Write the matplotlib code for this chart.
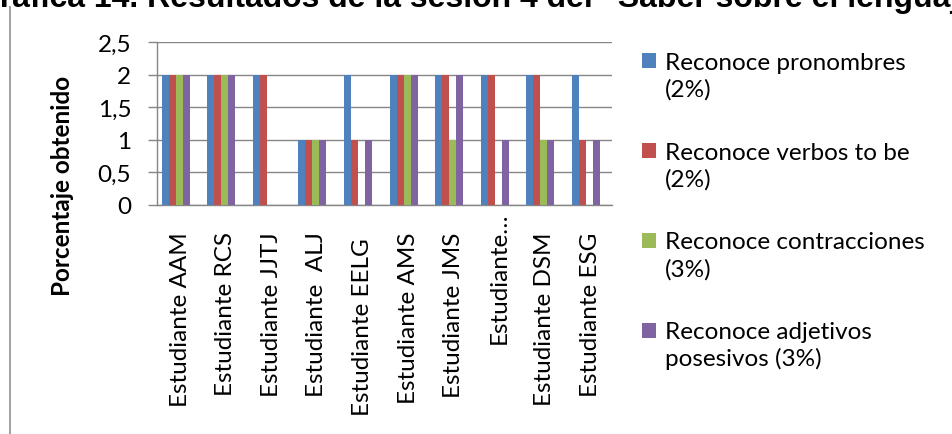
import matplotlib
matplotlib.use("Agg")
import matplotlib.pyplot as plt
import matplotlib.transforms as mtransforms
from matplotlib.patches import Rectangle
from matplotlib.lines import Line2D
import numpy as np

# ---- data -------------------------------------------------------------
students = ["Estudiante AAM", "Estudiante RCS", "Estudiante JJTJ", "Estudiante  ALJ",
            "Estudiante EELG ", "Estudiante AMS", "Estudiante JMS", "Estudiante\u2026",
            "Estudiante DSM", "Estudiante ESG"]
pronombres = [2, 2, 2, 1, 2, 2, 2, 2, 2, 2]
verbos_to_be = [2, 2, 2, 1, 1, 2, 2, 2, 2, 1]
contracciones = [2, 2, 0, 1, 0, 2, 1, 0, 1, 0]
adjetivos_posesivos = [2, 2, 0, 1, 1, 2, 2, 1, 1, 1]
series_labels = ["Reconoce pronombres\n(2%)",
                 "Reconoce verbos to be\n(2%)",
                 "Reconoce contracciones\n(3%)",
                 "Reconoce adjetivos\nposesivos (3%)"]
y_ticks = [0, 0.5, 1, 1.5, 2, 2.5]
y_tick_labels = ["0", "0,5", "1", "1,5", "2", "2,5"]
title = "Gráfica 14. Resultados de la sesión 4 del \u201cSaber sobre el lenguaje\u201d"
y_title = "Porcentaje obtenido"

# ---- style ------------------------------------------------------------
colors = ["#4F81BD", "#C0504D", "#9BBB59", "#8064A2"]
grid_color = "#868686"
FONT = "Lato"
FS = 17.5
W, H = 952, 435

fig = plt.figure(figsize=(W / 100, H / 100), dpi=100)
fig.patch.set_facecolor("white")

# plot area in pixel terms
ax_left, ax_right, ax_top, ax_bottom = 157, 612, 43, 206
ax = fig.add_axes([ax_left / W, 1 - ax_bottom / H,
                   (ax_right - ax_left) / W, (ax_bottom - ax_top) / H])

series = [pronombres, verbos_to_be, contracciones, adjetivos_posesivos]
x = np.arange(len(students))
bar_w = 0.1536
for i, (vals, col) in enumerate(zip(series, colors)):
    ax.bar(x + (i - 1.5) * bar_w, vals, width=bar_w, color=col,
           edgecolor="none", zorder=3)

ax.set_xlim(-0.41, 9.57)
ax.set_ylim(0, 2.5)
ax.set_yticks(y_ticks)
ax.set_yticklabels(y_tick_labels, fontfamily=FONT, fontsize=FS)
ax.set_xticks(x)
ax.set_xticklabels(students, rotation=90, fontfamily=FONT, fontsize=FS)
ax.tick_params(axis="x", length=0, pad=19)
ax.tick_params(axis="y", length=6.5, width=1, color=grid_color, pad=12)
ax.yaxis.grid(True, color=grid_color, linewidth=1.0, zorder=0)
ax.set_axisbelow(True)
for side in ("top", "right"):
    ax.spines[side].set_visible(False)
for side in ("left", "bottom"):
    ax.spines[side].set_color(grid_color)
    ax.spines[side].set_linewidth(1.0)

# category labels sit slightly right of the bar groups
shift = mtransforms.ScaledTranslation(4.5 / 100, 0, fig.dpi_scale_trans)
for k, lab in enumerate(ax.get_xticklabels()):
    t = lab.get_transform() + shift
    if lab.get_text().endswith("\u2026"):
        t = t + mtransforms.ScaledTranslation(0, 20 / 100, fig.dpi_scale_trans)
    lab.set_transform(t)

ax.set_ylabel(y_title, fontfamily=FONT, fontsize=FS, fontweight="bold", va="center")
ax.yaxis.set_label_coords((62 - ax_left) / (ax_right - ax_left),
                          (ax_bottom - 186) / (ax_bottom - ax_top))

# legend drawn as a column on the right
for i, (lab, col) in enumerate(zip(series_labels, colors)):
    y0 = 69.5 + 90 * i
    fig.patches.append(Rectangle((642 / W, 1 - (y0 - 1) / H), 14 / W, 15 / H,
                                 transform=fig.transFigure, facecolor=col,
                                 edgecolor="none"))
    for j, line in enumerate(lab.split("\n")):
        fig.text(665 / W, 1 - (y0 + 27 * j) / H, line, fontfamily=FONT,
                 fontsize=FS, va="baseline", ha="left", color="black")

# chart frame edge on the left
fig.add_artist(Line2D([9.5 / W, 9.5 / W], [0, 1 - 8 / H], color="#a0a0a0",
                      linewidth=1.4, transform=fig.transFigure))

# title sits at the very top edge
fig.text(-25 / W, 1 - 6.5 / H, title, fontfamily="Liberation Sans",
         fontweight="bold", fontsize=23, va="baseline", ha="left")

fig.savefig("out.png", dpi=100)
